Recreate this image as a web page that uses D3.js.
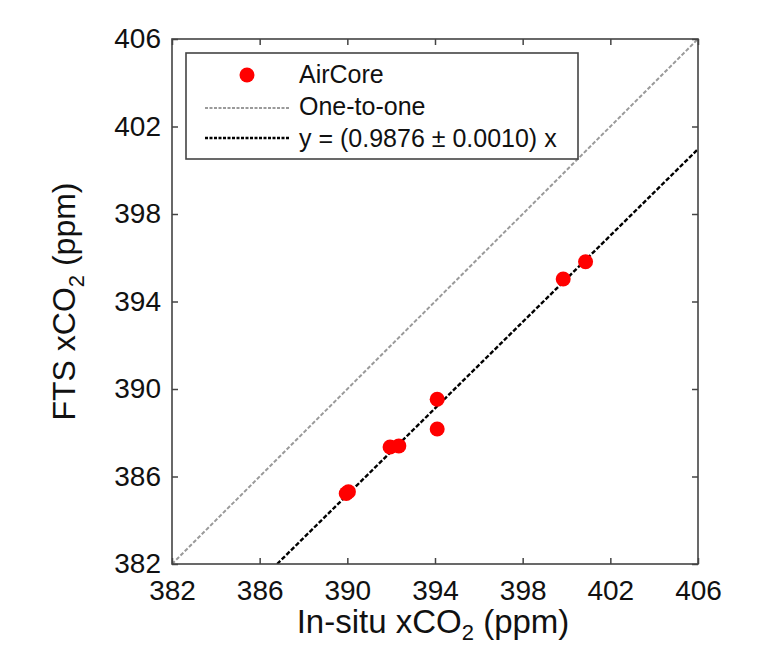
<!DOCTYPE html>
<html>
<head>
<meta charset="utf-8">
<script src="https://cdn.jsdelivr.net/npm/d3@7"></script>
<style>
  body { margin: 0; background: #fff; }
  svg { display: block; font-family: "Liberation Sans", Arial, sans-serif; }
</style>
</head>
<body>
<svg id="chart" width="770" height="646"></svg>
<script>
// ---- data ----
const insitu = [389.95, 390.05, 391.95, 392.35, 394.1, 394.1, 399.85, 400.87];
const fts    = [385.22, 385.3, 387.35, 387.4, 389.53, 388.17, 395.03, 395.82];
const tickValues = [382, 386, 390, 394, 398, 402, 406];
const slope = 0.9876;
const legendLabels = ["AirCore", "One-to-one", "y = (0.9876 \u00B1 0.0010) x"];

// ---- layout ----
const svg = d3.select("#chart");
const L = 172, R = 698, T = 39, B = 564;
const x = d3.scaleLinear().domain([382, 406]).range([L, R]);
const y = d3.scaleLinear().domain([382, 406]).range([B, T]);

svg.append("clipPath").attr("id", "clip")
  .append("rect").attr("x", L).attr("y", T).attr("width", R - L).attr("height", B - T);

const g = svg.append("g").attr("clip-path", "url(#clip)");
// one-to-one line
g.append("line")
  .attr("x1", x(382)).attr("y1", y(382)).attr("x2", x(406)).attr("y2", y(406))
  .attr("stroke", "#9a9a9a").attr("stroke-width", 2).attr("stroke-dasharray", "4,2");
// fit line
g.append("line")
  .attr("x1", x(382 / slope)).attr("y1", y(382)).attr("x2", x(406)).attr("y2", y(406 * slope))
  .attr("stroke", "#000").attr("stroke-width", 2.4).attr("stroke-dasharray", "4.5,2");

// points
g.selectAll("circle.pt").data(insitu.map((v, i) => [v, fts[i]])).join("circle")
  .attr("class", "pt")
  .attr("cx", d => x(d[0])).attr("cy", d => y(d[1])).attr("r", 7.5)
  .attr("fill", "#ff0000");

// axes (ticks inward on all sides)
const fmt = d3.format("d");
const axB = svg.append("g").attr("transform", `translate(0,${B})`)
  .call(d3.axisBottom(x).tickValues(tickValues).tickSizeInner(-6).tickSizeOuter(0).tickPadding(16).tickFormat(fmt));
const axL = svg.append("g").attr("transform", `translate(${L},0)`)
  .call(d3.axisLeft(y).tickValues(tickValues).tickSizeInner(-6).tickSizeOuter(0).tickPadding(11).tickFormat(fmt));
const axT = svg.append("g").attr("transform", `translate(0,${T})`)
  .call(d3.axisTop(x).tickValues(tickValues).tickSizeInner(-6).tickSizeOuter(0).tickFormat(""));
const axR = svg.append("g").attr("transform", `translate(${R},0)`)
  .call(d3.axisRight(y).tickValues(tickValues).tickSizeInner(-6).tickSizeOuter(0).tickFormat(""));
[axB, axL, axT, axR].forEach(a => {
  a.select(".domain").remove();
  a.selectAll(".tick line").attr("stroke", "#444").attr("stroke-width", 1.5);
  a.selectAll("text").attr("fill", "#111").attr("font-size", 28)
    .attr("font-family", "'Liberation Sans', Arial, sans-serif");
});
axB.selectAll("text").attr("dy", "0.71em");

// frame
svg.append("rect").attr("x", L).attr("y", T).attr("width", R - L).attr("height", B - T)
  .attr("fill", "none").attr("stroke", "#444").attr("stroke-width", 1.6);

// axis titles
const xt = svg.append("text").attr("x", (L + R) / 2 - 2).attr("y", 633)
  .attr("text-anchor", "middle").attr("font-size", 33).attr("fill", "#111");
xt.append("tspan").text("In-situ xCO");
xt.append("tspan").attr("font-size", 22).attr("dy", 7).text("2");
xt.append("tspan").attr("dy", -7).text(" (ppm)");

const yt = svg.append("text").attr("transform", `translate(75,${(T + B) / 2}) rotate(-90)`)
  .attr("text-anchor", "middle").attr("font-size", 32).attr("fill", "#111");
yt.append("tspan").text("FTS xCO");
yt.append("tspan").attr("font-size", 22).attr("dy", 9).text("2");
yt.append("tspan").attr("dy", -9).text(" (ppm)");

// legend
const lg = svg.append("g");
lg.append("rect").attr("x", 186).attr("y", 53).attr("width", 392).attr("height", 106)
  .attr("fill", "#fff").attr("stroke", "#444").attr("stroke-width", 1.6);
lg.append("circle").attr("cx", 247).attr("cy", 75).attr("r", 7.5).attr("fill", "#ff0000");
lg.append("line").attr("x1", 205).attr("x2", 290).attr("y1", 108).attr("y2", 108)
  .attr("stroke", "#9a9a9a").attr("stroke-width", 2).attr("stroke-dasharray", "3,1.5");
lg.append("line").attr("x1", 205).attr("x2", 290).attr("y1", 138).attr("y2", 138)
  .attr("stroke", "#000").attr("stroke-width", 2.4).attr("stroke-dasharray", "3,1.5");
const ly = [83, 115, 147];
lg.selectAll("text.lt").data(legendLabels).join("text").attr("class", "lt")
  .attr("x", 299).attr("y", (d, i) => ly[i]).attr("font-size", 25).attr("fill", "#111")
  .text(d => d);
</script>
</body>
</html>
